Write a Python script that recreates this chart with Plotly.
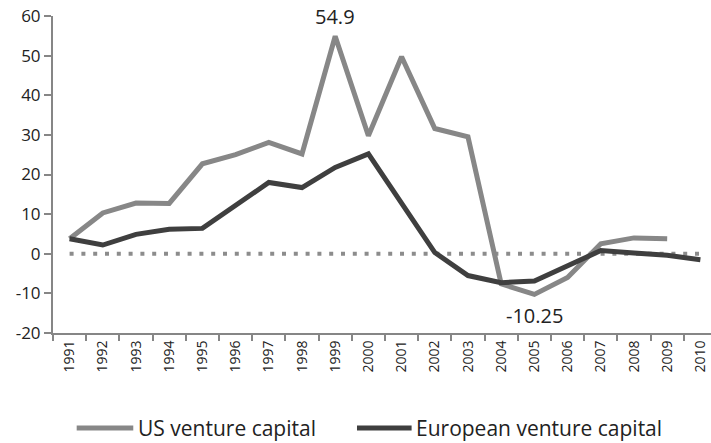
import plotly.graph_objects as go

# Annual returns (%)
years = [str(y) for y in range(1991, 2011)]
us_vc = [3.8, 10.3, 12.8, 12.7, 22.7, 25.0, 28.1, 25.2, 54.9, 29.8,
         49.7, 31.6, 29.5, -7.6, -10.25, -6.0, 2.5, 4.0, 3.8, None]
eu_vc = [3.8, 2.2, 4.9, 6.2, 6.4, 12.1, 18.0, 16.7, 21.8, 25.2,
         13.0, 0.3, -5.5, -7.3, -6.9, -3.0, 0.8, 0.2, -0.4, -1.5]
zero_line = [0] * len(years)
y_ticks = [-20, -10, 0, 10, 20, 30, 40, 50, 60]
y_ticktext = ["-20", "-10", "0", "10", "20", "30", "40", "50", "60"]

FONT = "Open Sans"
US_COLOR = "#878787"
EU_COLOR = "#3f3f3f"
AXIS_COLOR = "#868686"
X_RANGE = [-0.5, 19.32]
Y_RANGE = [-20, 60]
W, H = 711, 443
MARGIN = dict(l=53, r=0, t=16, b=110)
PLOT_H = H - MARGIN["t"] - MARGIN["b"]

fig = go.Figure()

fig.add_trace(go.Scatter(
    x=years, y=zero_line, mode="lines",
    line=dict(color="#8c8c8c", width=4, dash="4px,7.8px"),
    showlegend=False, hoverinfo="skip",
))
fig.add_trace(go.Scatter(
    x=years, y=us_vc, mode="lines", name="US venture capital",
    line=dict(color=US_COLOR, width=5), showlegend=False,
))
fig.add_trace(go.Scatter(
    x=years, y=eu_vc, mode="lines", name="European venture capital",
    line=dict(color=EU_COLOR, width=5), showlegend=False,
))


def to_paper(i, v, shift_px):
    """category index + value -> paper coords (plotly hides axis-referenced
    text labels that poke out of the plot, so these go in paper space)"""
    xf = (i - X_RANGE[0]) / (X_RANGE[1] - X_RANGE[0])
    yf = (v - Y_RANGE[0]) / (Y_RANGE[1] - Y_RANGE[0]) + shift_px / PLOT_H
    return xf, yf


# data labels for peak and trough
peak_i = us_vc.index(max(v for v in us_vc if v is not None))
low_i = us_vc.index(min(v for v in us_vc if v is not None))
for i, shift in [(peak_i, 20), (low_i, -21)]:
    xf, yf = to_paper(i, us_vc[i], shift)
    fig.add_annotation(xref="paper", x=xf, yref="paper", y=yf,
                       text=str(us_vc[i]), showarrow=False,
                       xanchor="center", yanchor="middle",
                       font=dict(size=20, color="#222"))

# legend drawn by hand (long line keys, as in the original)
legend_y = -0.30
for x0, x1, color, label in [(0.036, 0.122, US_COLOR, "US venture capital"),
                             (0.462, 0.545, EU_COLOR, "European venture capital")]:
    fig.add_shape(type="line", xref="paper", yref="paper",
                  x0=x0, x1=x1, y0=legend_y, y1=legend_y,
                  line=dict(color=color, width=5))
    fig.add_annotation(xref="paper", yref="paper", x=x1 + 0.004, y=legend_y,
                       text=label, showarrow=False, xanchor="left",
                       yanchor="middle", font=dict(size=21, color="#222"))

fig.update_layout(
    width=W, height=H,
    paper_bgcolor="white", plot_bgcolor="white",
    margin=MARGIN,
    font=dict(family=FONT, size=15, color="#222"),
    showlegend=False,
    xaxis=dict(
        type="category", range=X_RANGE, tickson="boundaries",
        showline=True, linecolor=AXIS_COLOR, linewidth=2,
        ticks="outside", ticklen=6, tickcolor=AXIS_COLOR, tickwidth=2,
        tickangle=-90, showgrid=False, zeroline=False,
        tickfont=dict(size=14), automargin=False, ticklabeloverflow="allow",
    ),
    yaxis=dict(
        range=Y_RANGE, tickvals=y_ticks, ticktext=y_ticktext,
        showline=True, linecolor=AXIS_COLOR, linewidth=2,
        ticks="outside", ticklen=7, tickcolor=AXIS_COLOR, tickwidth=2,
        showgrid=False, zeroline=False, tickfont=dict(size=17),
        automargin=False, ticklabeloverflow="allow",
    ),
)

# drop the browser's default 8px body margin so the figure fills the window
fig.write_html("out.html", config={"displayModeBar": False},
               post_script="document.body.style.margin='0';")
